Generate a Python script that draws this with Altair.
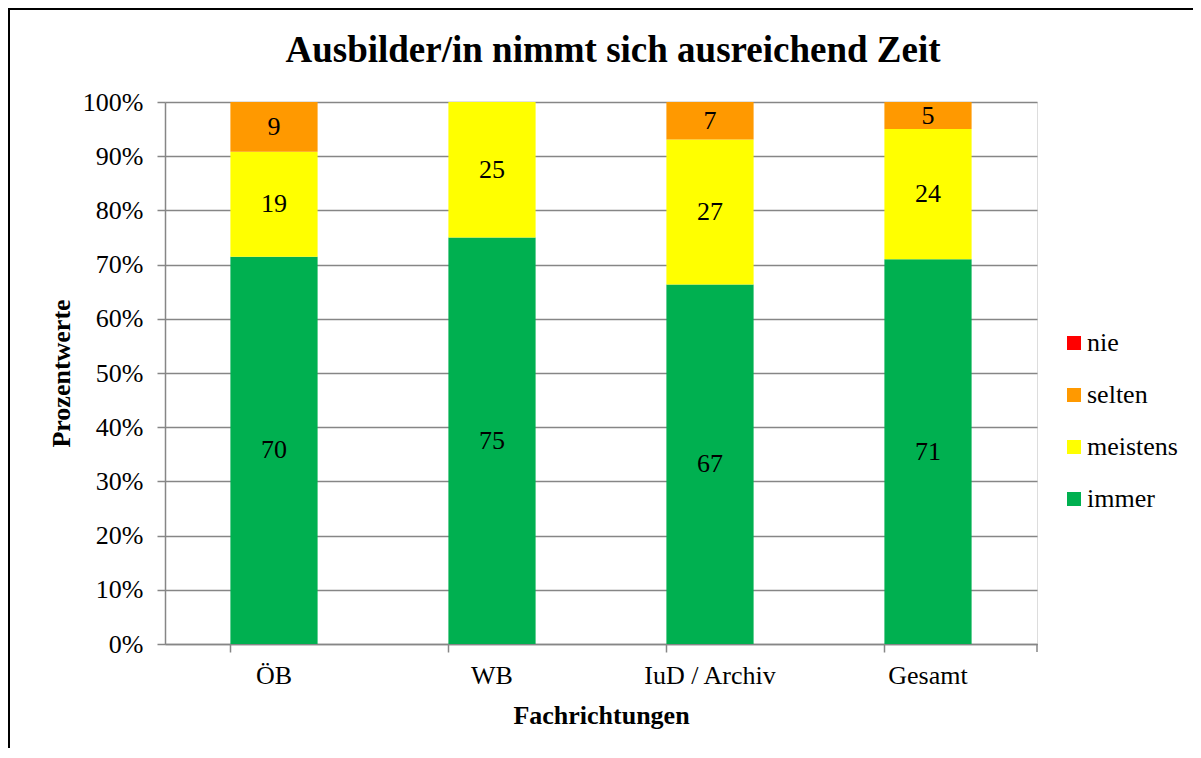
import altair as alt
import pandas as pd

title_text = "Ausbilder/in nimmt sich ausreichend Zeit"
categories = ["ÖB", "WB", "IuD / Archiv", "Gesamt"]
levels = ["nie", "selten", "meistens", "immer"]
immer = [70, 75, 67, 71]
meistens = [19, 25, 27, 24]
selten = [9, 0, 7, 5]
nie = [0, 0, 0, 0]
colors = ["#FF0000", "#FF9900", "#FFFF00", "#00B050"]
stack_rank = {"immer": 0, "meistens": 1, "selten": 2, "nie": 3}

rows = []
for i, c in enumerate(categories):
    for lvl, vals in (("immer", immer), ("meistens", meistens), ("selten", selten), ("nie", nie)):
        rows.append({"cat": c, "level": lvl, "value": vals[i], "ord": stack_rank[lvl],
                     "label": str(vals[i]) if vals[i] > 0 else ""})
df = pd.DataFrame(rows)
one = pd.DataFrame({"t": [title_text]})

FONT = "Liberation Serif"
W, H = 872, 542

base = alt.Chart(df).transform_stack(
    stack="value", groupby=["cat"], as_=["y0", "y1"], offset="normalize",
    sort=[alt.SortField("ord", order="ascending")]
).transform_calculate(mid="(datum.y0 + datum.y1) / 2")

xenc = alt.X("cat:N", sort=categories, title="Fachrichtungen",
             scale=alt.Scale(paddingInner=0.6, paddingOuter=0.3),
             axis=alt.Axis(labelAngle=0, bandPosition=0, domainColor="#868686", domainWidth=1.5,
                           tickColor="#868686", tickWidth=1.5, tickSize=8, labelPadding=10,
                           labelFont=FONT, labelFontSize=26, labelColor="black",
                           titleFont=FONT, titleFontSize=26, titleFontWeight="bold",
                           titleColor="black", titlePadding=14, grid=False))

bars = base.mark_bar().encode(
    x=xenc,
    y=alt.Y("y0:Q", title="Prozentwerte",
            scale=alt.Scale(domain=[0, 1], nice=False),
            axis=alt.Axis(format=".0%", values=[i / 10 for i in range(11)],
                          grid=True, gridColor="#868686", gridWidth=1.5,
                          domainColor="#868686", domainWidth=1.5,
                          tickColor="#868686", tickWidth=1.5, tickSize=8,
                          labelPadding=14, labelFont=FONT, labelFontSize=26, labelColor="black",
                          titleFont=FONT, titleFontSize=26, titleFontWeight="bold",
                          titleColor="black", titlePadding=8)),
    y2="y1:Q",
    color=alt.Color("level:N", scale=alt.Scale(domain=levels, range=colors),
                    legend=alt.Legend(title=None, orient="none", legendX=896, legendY=228,
                                      symbolType="square", symbolSize=196, symbolStrokeWidth=0,
                                      labelFont=FONT, labelFontSize=26, labelColor="black",
                                      labelOffset=0, rowPadding=26)),
    order=alt.Order("ord:Q", sort="ascending"),
)

labels = base.mark_text(font=FONT, fontSize=26, color="black", baseline="middle").encode(
    x=alt.X("cat:N", sort=categories),
    y=alt.Y("mid:Q"),
    text="label:N",
)

end_tick = alt.Chart(one).mark_rule(color="#868686", strokeWidth=1.5).encode(
    x=alt.value(W), y=alt.value(H), y2=alt.value(H + 8)
)

left_border = alt.Chart(one).mark_rule(color="black", strokeWidth=2).encode(
    x=alt.value(-156), y=alt.value(-94), y2=alt.value(H + 110)
)
top_border = alt.Chart(one).mark_rule(color="black", strokeWidth=2).encode(
    x=alt.value(-157), x2=alt.value(W + 160), y=alt.value(-93)
)

title = alt.Chart(one).mark_text(font=FONT, fontSize=37, fontWeight="bold", color="black",
                                  baseline="alphabetic", align="center").encode(
    x=alt.value(W / 2 + 12), y=alt.value(-40), text="t:N"
)

chart = alt.layer(left_border, top_border, bars, labels, end_tick, title).properties(
    width=W, height=H,
    autosize=alt.AutoSizeParams(type="none"),
    padding={"left": 157, "top": 94, "right": 156, "bottom": 104},
).configure_view(stroke=None).configure(background="white").configure_legend(
    labelFont=FONT
)

chart.save("out.html", embed_options={"renderer": "svg", "actions": False})
